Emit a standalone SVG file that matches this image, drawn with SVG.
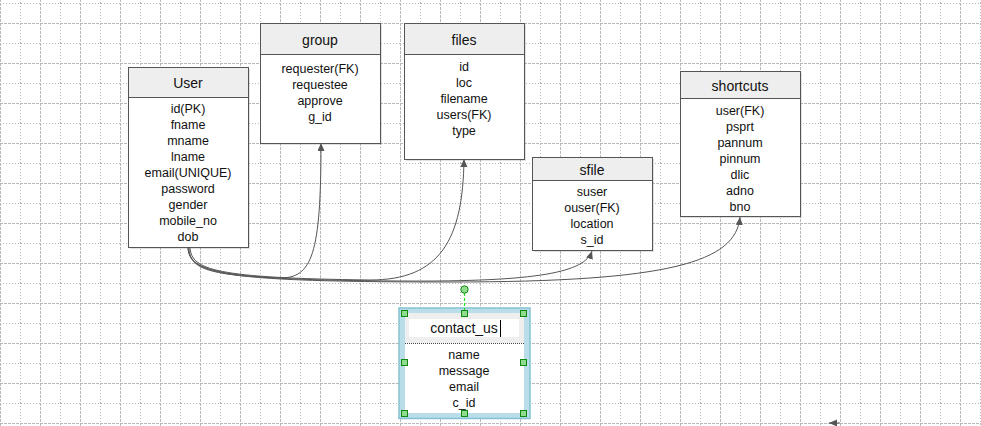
<svg xmlns="http://www.w3.org/2000/svg" width="981" height="426" viewBox="0 0 981 426">
<style>
.box{fill:#fff;stroke:#555;stroke-width:1}
.hdr{fill:#eeeeee}
.sep{stroke:#555;stroke-width:1}
.shadow{fill:#888;opacity:0.25}
.title{font-family:"Liberation Sans",Arial,sans-serif;font-size:14px;font-weight:normal;fill:#111;text-anchor:middle}
.attr{font-family:"Liberation Sans",Arial,sans-serif;font-size:12.5px;font-weight:normal;fill:#111;text-anchor:middle}
.conn{fill:none;stroke:#555;stroke-width:1;marker-end:url(#arrow)}
.handle{fill:#8fdc8f;stroke:#118811;stroke-width:1}
.gd{stroke:#b8b8b8;stroke-width:1;stroke-dasharray:3,1}
.gt{stroke:#b8b8b8;stroke-width:1;stroke-dasharray:1,2}
</style>
<defs>
<pattern id="grid" patternUnits="userSpaceOnUse" x="0" y="3" width="40" height="40">
<line class="gt" x1="0" y1="0.5" x2="40" y2="0.5"/>
<line class="gd" x1="0" y1="20.5" x2="40" y2="20.5"/>
<line class="gd" x1="0.5" y1="0" x2="0.5" y2="40"/>
<line class="gt" x1="20.5" y1="0" x2="20.5" y2="40"/>
</pattern>
<marker id="arrow" markerUnits="userSpaceOnUse" markerWidth="9" markerHeight="8" refX="8" refY="3.5" orient="auto">
<path d="M0,0 L8,3.5 L0,7 z" fill="#555"/>
</marker>
</defs>
<rect width="981" height="426" fill="#fff"/>
<rect width="981" height="426" fill="url(#grid)"/>

<g id="connectors">
<path class="conn" d="M189 248 C190 268 205 275 280 278 C312 278 321 255 321 143"/>
<path class="conn" d="M190 248 C192 270 215 278 370 280 C440 280 463 240 464 159"/>
<path class="conn" d="M188 248 C190 272 220 280 400 281 C540 282 585 272 592 251"/>
<path class="conn" d="M188 248 C190 274 220 282 450 282 C670 282 736 262 740 217"/>
<path class="conn" d="M840 423 L829 423"/>
</g>

<g id="node-user">
<rect class="shadow" x="130" y="69" width="120" height="180"/>
<rect class="box" x="128.5" y="67.5" width="120" height="180"/>
<rect class="hdr" x="129" y="68" width="119" height="29"/>
<line class="sep" x1="128.5" y1="97.5" x2="248.5" y2="97.5"/>
<text class="title" x="188" y="88">User</text>
<text class="attr" x="188" y="113">id(PK)</text>
<text class="attr" x="188" y="129">fname</text>
<text class="attr" x="188" y="145">mname</text>
<text class="attr" x="188" y="161">lname</text>
<text class="attr" x="188" y="177">email(UNIQUE)</text>
<text class="attr" x="188" y="193">password</text>
<text class="attr" x="188" y="209">gender</text>
<text class="attr" x="188" y="225">mobile_no</text>
<text class="attr" x="188" y="241">dob</text>
</g>

<g id="node-group">
<rect class="shadow" x="262" y="25" width="120" height="120"/>
<rect class="box" x="260.5" y="23.5" width="120" height="120"/>
<rect class="hdr" x="261" y="24" width="119" height="30"/>
<line class="sep" x1="260.5" y1="54.5" x2="380.5" y2="54.5"/>
<text class="title" x="320" y="45">group</text>
<text class="attr" x="320" y="73">requester(FK)</text>
<text class="attr" x="320" y="89">requestee</text>
<text class="attr" x="320" y="105">approve</text>
<text class="attr" x="320" y="121">g_id</text>
</g>

<g id="node-files">
<rect class="shadow" x="406" y="25" width="120" height="136"/>
<rect class="box" x="404.5" y="23.5" width="120" height="136"/>
<rect class="hdr" x="405" y="24" width="119" height="30"/>
<line class="sep" x1="404.5" y1="54.5" x2="524.5" y2="54.5"/>
<text class="title" x="464" y="45">files</text>
<text class="attr" x="464" y="71">id</text>
<text class="attr" x="464" y="87">loc</text>
<text class="attr" x="464" y="103">filename</text>
<text class="attr" x="464" y="119">users(FK)</text>
<text class="attr" x="464" y="135">type</text>
</g>

<g id="node-sfile">
<rect class="shadow" x="534" y="159" width="120" height="93"/>
<rect class="box" x="532.5" y="157.5" width="120" height="93"/>
<rect class="hdr" x="533" y="158" width="119" height="22"/>
<line class="sep" x1="532.5" y1="180.5" x2="652.5" y2="180.5"/>
<text class="title" x="592" y="175">sfile</text>
<text class="attr" x="592" y="196">suser</text>
<text class="attr" x="592" y="212">ouser(FK)</text>
<text class="attr" x="592" y="228">location</text>
<text class="attr" x="592" y="244">s_id</text>
</g>

<g id="node-shortcuts">
<rect class="shadow" x="682" y="73" width="120" height="145"/>
<rect class="box" x="680.5" y="71.5" width="120" height="145"/>
<rect class="hdr" x="681" y="72" width="119" height="26"/>
<line class="sep" x1="680.5" y1="98.5" x2="800.5" y2="98.5"/>
<text class="title" x="740" y="91">shortcuts</text>
<text class="attr" x="740" y="115">user(FK)</text>
<text class="attr" x="740" y="131">psprt</text>
<text class="attr" x="740" y="147">pannum</text>
<text class="attr" x="740" y="163">pinnum</text>
<text class="attr" x="740" y="179">dlic</text>
<text class="attr" x="740" y="195">adno</text>
<text class="attr" x="740" y="211">bno</text>
</g>

<g id="node-contact_us">
<rect x="399" y="308" width="131" height="110.5" fill="#b9dde9" stroke="#86c2d3" stroke-width="1.5"/>
<rect x="405" y="313" width="119" height="100" fill="#fff"/>
<rect x="405" y="313" width="119" height="30" fill="#eeeeee"/>
<rect x="409" y="319" width="110" height="18" fill="#fff"/>
<line x1="405" y1="343.5" x2="524" y2="343.5" stroke="#444" stroke-width="1" stroke-dasharray="1,1"/>
<text class="title" x="464" y="333">contact_us</text>
<line x1="500.5" y1="320" x2="500.5" y2="337" stroke="#000" stroke-width="1"/>
<text class="attr" x="464" y="359">name</text>
<text class="attr" x="464" y="375">message</text>
<text class="attr" x="464" y="391">email</text>
<text class="attr" x="464" y="407">c_id</text>
<line x1="464.5" y1="293" x2="464.5" y2="310" stroke="#22dd22" stroke-width="1.2" stroke-dasharray="3,2"/>
<circle cx="464.5" cy="289.5" r="3.7" fill="#8fdc8f" stroke="#118811" stroke-width="1"/>
<rect class="handle" x="401.5" y="310.5" width="6" height="6"/>
<rect class="handle" x="461.5" y="310.5" width="6" height="6"/>
<rect class="handle" x="520.5" y="310.5" width="6" height="6"/>
<rect class="handle" x="401.5" y="359.5" width="6" height="6"/>
<rect class="handle" x="520.5" y="359.5" width="6" height="6"/>
<rect class="handle" x="401.5" y="410.5" width="6" height="6"/>
<rect class="handle" x="461.5" y="410.5" width="6" height="6"/>
<rect class="handle" x="520.5" y="410.5" width="6" height="6"/>
</g>
</svg>
